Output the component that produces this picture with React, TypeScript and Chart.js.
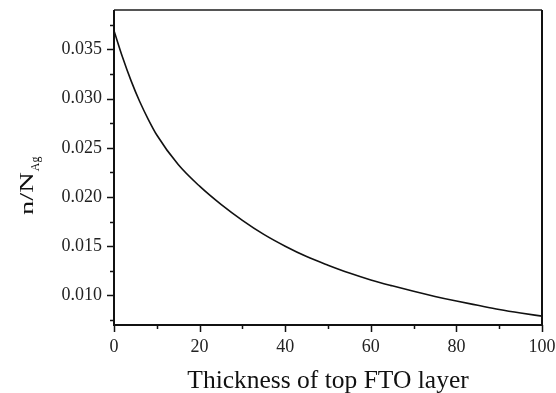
import React, { useEffect, useRef } from "react";
import { Chart, registerables } from "chart.js";

Chart.register(...registerables);

// Thickness of top FTO layer (x) and n/N_Ag (y)
const thickness = [0, 2, 4, 6, 8, 10, 15, 20, 25, 30, 35, 40, 45, 50, 55, 60, 65, 70, 75, 80, 85, 90, 95, 100];
const ratio = [
  0.0369, 0.0342, 0.0318, 0.0297, 0.0279, 0.0263, 0.0233, 0.0211, 0.01925, 0.01763, 0.0162, 0.0150,
  0.01395, 0.01308, 0.01228, 0.01158, 0.01098, 0.01042, 0.0099, 0.00943, 0.0090, 0.00858, 0.00822, 0.0079,
];

const xMajorTicks = [0, 20, 40, 60, 80, 100];
const xMinorTicks = [10, 30, 50, 70, 90];
const yMajorTicks = [0.01, 0.015, 0.02, 0.025, 0.03, 0.035];
const yMinorTicks = [0.0075, 0.0125, 0.0175, 0.0225, 0.0275, 0.0325, 0.0375];

const xTitle = "Thickness of top FTO layer";
const yTitleMain = "n/N";
const yTitleSub = "Ag";

const FONT = "'Liberation Serif', 'Times New Roman', serif";

const framePlugin = {
  id: "frameAndTicks",
  afterDraw(chart: any) {
    const { ctx, chartArea } = chart;
    const { left, right, top, bottom } = chartArea;
    const xs = chart.scales.x;
    const ys = chart.scales.y;
    ctx.save();
    // ticks
    ctx.strokeStyle = "#111";
    ctx.lineWidth = 1.5;
    ctx.beginPath();
    yMajorTicks.forEach((v) => {
      const py = Math.round(ys.getPixelForValue(v)) + 0.5;
      ctx.moveTo(left - 7, py);
      ctx.lineTo(left, py);
    });
    yMinorTicks.forEach((v) => {
      const py = Math.round(ys.getPixelForValue(v)) + 0.5;
      ctx.moveTo(left - 4, py);
      ctx.lineTo(left, py);
    });
    xMajorTicks.forEach((v) => {
      const px = Math.round(xs.getPixelForValue(v)) + 0.5;
      ctx.moveTo(px, bottom);
      ctx.lineTo(px, bottom + 7);
    });
    xMinorTicks.forEach((v) => {
      const px = Math.round(xs.getPixelForValue(v)) + 0.5;
      ctx.moveTo(px, bottom);
      ctx.lineTo(px, bottom + 4);
    });
    ctx.stroke();
    // frame
    ctx.lineWidth = 2;
    ctx.strokeStyle = "#555";
    ctx.beginPath();
    ctx.moveTo(left, top);
    ctx.lineTo(right, top);
    ctx.stroke();
    ctx.strokeStyle = "#111";
    ctx.beginPath();
    ctx.moveTo(right, top);
    ctx.lineTo(right, bottom);
    ctx.lineTo(left, bottom);
    ctx.lineTo(left, top);
    ctx.stroke();
    // x title
    ctx.fillStyle = "#111";
    ctx.font = `25.5px ${FONT}`;
    ctx.textAlign = "center";
    ctx.textBaseline = "alphabetic";
    ctx.fillText(xTitle, (left + right) / 2, 388);
    // y title with subscript
    ctx.translate(33, 215);
    ctx.rotate(-Math.PI / 2);
    ctx.textAlign = "left";
    ctx.font = `19px ${FONT}`;
    const w = ctx.measureText(yTitleMain).width * 1.5;
    ctx.save();
    ctx.scale(1.5, 1);
    ctx.fillText(yTitleMain, 0, 0);
    ctx.restore();
    ctx.font = `12px ${FONT}`;
    ctx.fillText(yTitleSub, w + 1, 6);
    ctx.restore();
  },
};

export default function App() {
  const ref = useRef<HTMLCanvasElement | null>(null);
  useEffect(() => {
    if (!ref.current) return;
    const chart = new Chart(ref.current, {
      type: "line",
      data: {
        datasets: [
          {
            data: thickness.map((t, i) => ({ x: t, y: ratio[i] })),
            borderColor: "#111",
            borderWidth: 1.6,
            pointRadius: 0,
            cubicInterpolationMode: "monotone",
            fill: false,
          },
        ],
      },
      options: {
        animation: false,
        responsive: false,
        devicePixelRatio: 1,
        layout: { padding: { left: 0, top: 10, right: 14, bottom: 0 } },
        plugins: { legend: { display: false }, tooltip: { enabled: false } },
        scales: {
          x: {
            type: "linear",
            min: 0,
            max: 100,
            grid: { display: false, drawTicks: false },
            border: { display: false },
            afterBuildTicks: (s: any) => {
              s.ticks = xMajorTicks.map((v) => ({ value: v }));
            },
            afterFit: (s: any) => {
              s.height = 68;
              s.paddingLeft = 0;
              s.paddingRight = 0;
            },
            ticks: {
              padding: 11,
              maxRotation: 0,
              color: "#222",
              font: { family: FONT, size: 18 },
              callback: (v: any) => String(v),
            },
          },
          y: {
            type: "linear",
            min: 0.007,
            max: 0.039,
            grid: { display: false, drawTicks: false },
            border: { display: false },
            afterBuildTicks: (s: any) => {
              s.ticks = yMajorTicks.map((v) => ({ value: v }));
            },
            afterFit: (s: any) => {
              s.width = 114;
              s.paddingTop = 0;
              s.paddingBottom = 0;
            },
            ticks: {
              padding: 12,
              color: "#222",
              font: { family: FONT, size: 18 },
              callback: (v: any) => Number(v).toFixed(3),
            },
          },
        },
      },
      plugins: [framePlugin],
    } as any);
    return () => chart.destroy();
  }, []);
  return (
    <div style={{ position: "absolute", left: 0, top: 0, width: 556, height: 393, background: "#fff" }}>
      <canvas ref={ref} width={556} height={393} style={{ display: "block", width: 556, height: 393 }} />
    </div>
  );
}
